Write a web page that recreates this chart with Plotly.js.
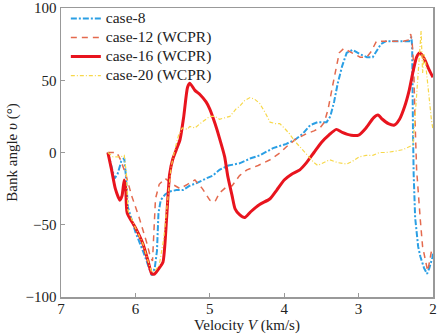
<!DOCTYPE html>
<html><head><meta charset="utf-8">
<script src="https://cdn.plot.ly/plotly-3.0.1.min.js"></script>
<style>html,body{margin:0;padding:0;background:#fff}#c{width:443px;height:336px}</style>
</head><body><div id="c"></div>
<script>
// case-8
var v8 = [6.37,6.33,6.28,6.24,6.19,6.15,6.13,6.10,6.0,5.9,5.82,5.78,5.74,5.71,5.69,5.66,5.6,5.54,5.45,5.36,5.27,5.17,5.05,4.96,4.87,4.75,4.6,4.45,4.33,4.15,3.97,3.85,3.75,3.65,3.55,3.43,3.38,3.33,3.28,3.22,3.16,3.08,2.98,2.89,2.81,2.76,2.70,2.63,2.5,2.4,2.32,2.29,2.28,2.27,2.26,2.24,2.20,2.17,2.12,2.08,2.05,2.01,2.0];
var a8 = [0,-8,-18,-15,-6,-4,-15,-38,-55,-68,-80,-85,-80,-68,-42,-33,-29,-27,-26,-26,-23,-21,-18,-16,-12,-9,-7.5,-4,-2,3,6,9,13,19,21,21,25,35,48,60,69,71,68,66,66,70,75,77,77,77,77,80,73,20,-15,-45,-65,-72,-80,-84,-80,-73,-70];
// case-12 (WCPR)
var v12 = [6.37,6.25,6.2,6.13,6.05,5.95,5.85,5.8,5.77,5.75,5.73,5.68,5.6,5.5,5.4,5.3,5.2,5.1,5.0,4.93,4.87,4.78,4.7,4.6,4.5,4.35,4.19,4.05,3.97,3.85,3.7,3.6,3.52,3.46,3.41,3.35,3.3,3.26,3.2,3.08,2.98,2.89,2.83,2.76,2.58,2.40,2.32,2.30,2.28,2.26,2.24,2.22,2.17,2.14,2.08,2.07,2.02,2.0];
var a12 = [0,0,-5,-15,-30,-45,-62,-72,-75,-55,-32,-22,-18,-22,-25,-22,-19,-25,-33,-34,-28,-24,-23,-16,-12,-9,-5,0,4,9,13,15,17,21,30,46,60,69,72,69,66,66,70,77,77,77,78,82,76,60,20,-12,-47,-65,-80,-82,-68,-66];
// case-16 (WCPR)
var v16 = [6.37,6.32,6.27,6.21,6.18,6.15,6.13,6.11,6.0,5.9,5.83,5.78,5.74,5.68,5.63,5.58,5.54,5.5,5.45,5.40,5.35,5.3,5.27,5.2,5.13,5.05,5.0,4.93,4.87,4.8,4.76,4.7,4.66,4.6,4.53,4.45,4.33,4.19,4.1,4.0,3.9,3.79,3.7,3.6,3.5,3.4,3.3,3.22,3.1,3.0,2.9,2.8,2.74,2.68,2.6,2.52,2.45,2.38,2.32,2.26,2.22,2.18,2.14,2.1,2.05,2.0];
var a16 = [0,-12,-25,-33,-30,-19,-25,-42,-52,-63,-75,-84,-84,-80,-76,-45,-15,-5,2,9,25,45,48,43,40,35,30,20,10,-3,-16,-30,-39,-43,-45,-41,-36,-32,-26,-19,-15,-12,-7,0,7,12,16,14,12,12,17,24,26,23,20,19,23,32,43,58,66,69,67,63,57,52];
// case-20 (WCPR)
var v20 = [6.37,6.3,6.2,6.15,6.12,6.1,6.0,5.9,5.83,5.78,5.74,5.68,5.62,5.56,5.52,5.47,5.42,5.37,5.3,5.27,5.2,5.13,5.05,5.0,4.93,4.87,4.8,4.73,4.65,4.6,4.53,4.46,4.4,4.33,4.26,4.19,4.12,4.06,4.0,3.93,3.86,3.79,3.72,3.66,3.6,3.55,3.47,3.39,3.28,3.16,3.08,2.99,2.9,2.81,2.72,2.63,2.5,2.4,2.32,2.27,2.24,2.2,2.16,2.14,2.12,2.10,2.06,2.02,2.0];
var a20 = [0,-3,-3,-2,-15,-40,-52,-63,-75,-83,-82,-78,-60,-30,-10,2,12,17,16,18,17,20,23,25,25,23,24,25,30,32,36,38,37,34,28,21,20,20,17,13,8,4,0,-3,-7,-9,-7,-5,-7,-8,-6,-3,-2,-2,0,0,1,2,4,5,25,55,84,55,68,62,40,22,16];

var seriesNames = ['case-8','case-12 (WCPR)','case-16 (WCPR)','case-20 (WCPR)'];
var xTicks = [7,6,5,4,3,2];
var yTicks = [-100,-50,0,50,100];

function nm(s){ return '<span style="font-size:15.5px">' + s + '</span>'; }
var traces = [
  {x:v8, y:a8, name:nm(seriesNames[0]), mode:'lines', line:{color:'#2b9fe4', width:2, dash:'6px,2px,2px,2px'}},
  {x:v12, y:a12, name:nm(seriesNames[1]), mode:'lines', line:{color:'#e46a4e', width:1.5, dash:'6px,5px'}},
  {x:v16, y:a16, name:nm(seriesNames[2]), mode:'lines', line:{color:'#e8141e', width:3, shape:'spline', smoothing:0.6}},
  {x:v20, y:a20, name:nm(seriesNames[3]), mode:'lines', line:{color:'#f7d84a', width:1.2, dash:'4px,2px,1px,2px'}}
];
var fam = '"Liberation Serif", "Times New Roman", serif';
var fnt = {family:fam, size:15, color:'#222'};
var layout = {
  width:443, height:336,
  margin:{l:61, r:10, t:8, b:39, autoexpand:false},
  paper_bgcolor:'#fff', plot_bgcolor:'#fff',
  font:fnt,
  showlegend:true,
  legend:{x:0.013, xref:'paper', y:0.988, yref:'container', xanchor:'left', yanchor:'top', bgcolor:'rgba(0,0,0,0)', font:{family:fam, size:11.6, color:'#222'}, tracegroupgap:0},
  xaxis:{range:[7,2], tickvals:xTicks, ticktext:xTicks.map(String), ticks:'inside', ticklen:4, tickcolor:'#999',
    ticklabelstandoff:-3,
    showline:true, linecolor:'#999', linewidth:1.5, mirror:true, showgrid:false, zeroline:false,
    title:{text:'Velocity <i>V</i> (km/s)', font:fnt, standoff:0}},
  yaxis:{range:[-100,100], tickvals:yTicks, ticks:'inside', ticklen:4, tickcolor:'#999',
    showline:true, linecolor:'#999', linewidth:1.5, mirror:true, showgrid:false, zeroline:false,
    title:{text:'Bank angle <i>υ</i> (°)', font:fnt, standoff:4}}
};
Plotly.newPlot('c', traces, layout, {staticPlot:true});
</script></body></html>
